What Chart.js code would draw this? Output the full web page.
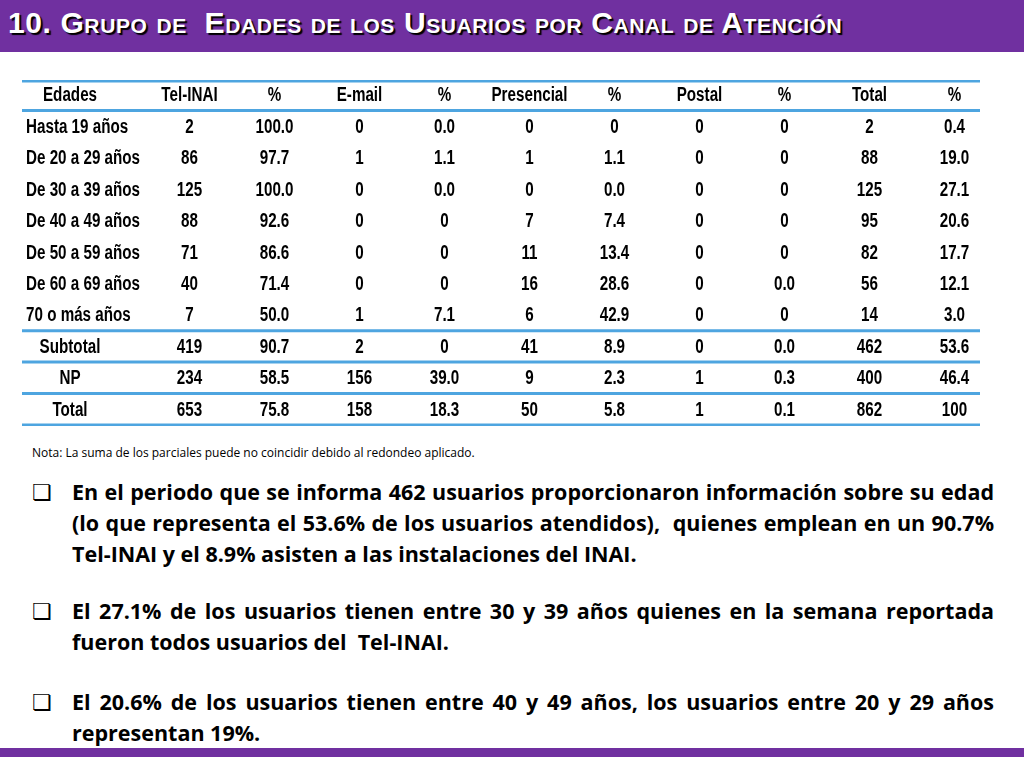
<!DOCTYPE html>
<html><head><meta charset="utf-8">
<script src="https://cdn.jsdelivr.net/npm/chart.js@4.4.0/dist/chart.umd.min.js"></script>
<style>
body{margin:0;width:1024px;height:768px;background:#fff;position:relative;overflow:hidden;font-family:"Liberation Sans",Arial,sans-serif}
#top{position:absolute;left:0;top:0;width:1024px;height:52px;background:#7030a0}
#title{position:absolute;left:8px;top:6px;color:#fff;font-weight:bold;font-size:30px;font-variant:small-caps;text-shadow:2px 2px 1px #000;letter-spacing:0.6px;white-space:nowrap}
#bot{position:absolute;left:0;top:748px;width:1024px;height:9px;background:#7030a0}
#wrap{position:absolute;left:0;top:80px;width:1024px;height:346px}
#nota{position:absolute;left:32px;top:444px;font-size:12px;font-family:"Open Sans",sans-serif}
.b{position:absolute;left:30px;width:964px;font-size:21.5px;font-weight:bold;line-height:31px;text-align:justify;padding-left:42px;box-sizing:border-box;font-family:"Open Sans",sans-serif;letter-spacing:0px}
.b:before{content:"\274F";position:absolute;left:2px;top:0;font-weight:normal;font-size:22px}
</style></head><body>
<div id="top"></div>
<div id="title">10. Grupo de &nbsp;Edades de los Usuarios por Canal de Atención</div>
<div id="bot"></div>
<div id="wrap"><canvas id="c"></canvas></div>
<div id="nota">Nota: La suma de los parciales puede no coincidir debido al redondeo aplicado.</div>
<div class="b" style="top:476px">En el periodo que se informa 462 usuarios proporcionaron información sobre su edad (lo que representa el 53.6% de los usuarios atendidos), &nbsp;quienes emplean en un 90.7% Tel-INAI y el 8.9% asisten a las instalaciones del INAI.</div>
<div class="b" style="top:595px">El 27.1% de los usuarios tienen entre 30 y 39 años quienes en la semana reportada fueron todos usuarios del &nbsp;Tel-INAI.</div>
<div class="b" style="top:686px">El 20.6% de los usuarios tienen entre 40 y 49 años, los usuarios entre 20 y 29 años representan 19%.</div>
<script>
const columns = ['Tel-INAI','%','E-mail','%','Presencial','%','Postal','%','Total','%'];
const rows = ['Edades','Hasta 19 años','De 20 a 29 años','De 30 a 39 años','De 40 a 49 años','De 50 a 59 años','De 60 a 69 años','70 o más años','Subtotal','NP','Total'];
const telinai = ['2','86','125','88','71','40','7','419','234','653'];
const telPct = ['100.0','97.7','100.0','92.6','86.6','71.4','50.0','90.7','58.5','75.8'];
const email = ['0','1','0','0','0','0','1','2','156','158'];
const emailPct = ['0.0','1.1','0.0','0','0','0','7.1','0','39.0','18.3'];
const presencial = ['0','1','0','7','11','16','6','41','9','50'];
const presPct = ['0','1.1','0.0','7.4','13.4','28.6','42.9','8.9','2.3','5.8'];
const postal = ['0','0','0','0','0','0','0','0','1','1'];
const postalPct = ['0','0','0','0','0','0.0','0','0.0','0.3','0.1'];
const total = ['2','88','125','95','82','56','14','462','400','862'];
const totalPct = ['0.4','19.0','27.1','20.6','17.7','12.1','3.0','53.6','46.4','100'];
const series = [telinai,telPct,email,emailPct,presencial,presPct,postal,postalPct,total,totalPct];
const lineAfter = ['Edades','70 o más años','Subtotal','NP','Total'];
const centered = ['Edades','Subtotal','NP','Total'];

const SX = 0.76;
const tablePlugin = {
  id:'table',
  afterDraw(chart){
    const {ctx, scales:{x,y}} = chart;
    ctx.save();
    ctx.font = 'bold 20px "Liberation Sans",sans-serif'; ctx.fillStyle = '#000'; ctx.textBaseline = 'middle';
    const txt = (s, px, py, align) => {
      ctx.save(); ctx.translate(px, py); ctx.scale(SX, 1);
      ctx.textAlign = align; ctx.fillText(s, 0, 0); ctx.restore();
    };
    const half = (y.getPixelForValue(1)-y.getPixelForValue(0))/2;
    rows.forEach((r,ri)=>{
      const py = y.getPixelForValue(ri);
      const c = centered.includes(r);
      txt(r, c ? 70 : 26, py, c ? 'center' : 'left');
      columns.forEach((col,ci)=>{
        txt(ri===0 ? col : series[ci][ri-1], x.getPixelForValue(ci), py, 'center');
      });
    });
    ctx.strokeStyle = '#4ea5e0'; ctx.lineWidth = 3;
    const line = yy => {ctx.beginPath();ctx.moveTo(22,yy);ctx.lineTo(980,yy);ctx.stroke();};
    line(y.getPixelForValue(0)-half+1);
    lineAfter.forEach(r=>line(y.getPixelForValue(rows.indexOf(r))+half-1));
    ctx.restore();
  }
};
new Chart(document.getElementById('c'), {
  type:'bar',
  data:{labels:columns, datasets:[{data:[]}]},
  options:{
    responsive:true, maintainAspectRatio:false, animation:false,
    layout:{padding:{left:147,right:27,top:0,bottom:0}},
    plugins:{legend:{display:false},tooltip:{enabled:false}},
    scales:{
      x:{type:'category',display:false,offset:true},
      y:{type:'category',labels:rows,display:false,offset:true}
    }
  },
  plugins:[tablePlugin]
});
</script>
</body></html>
